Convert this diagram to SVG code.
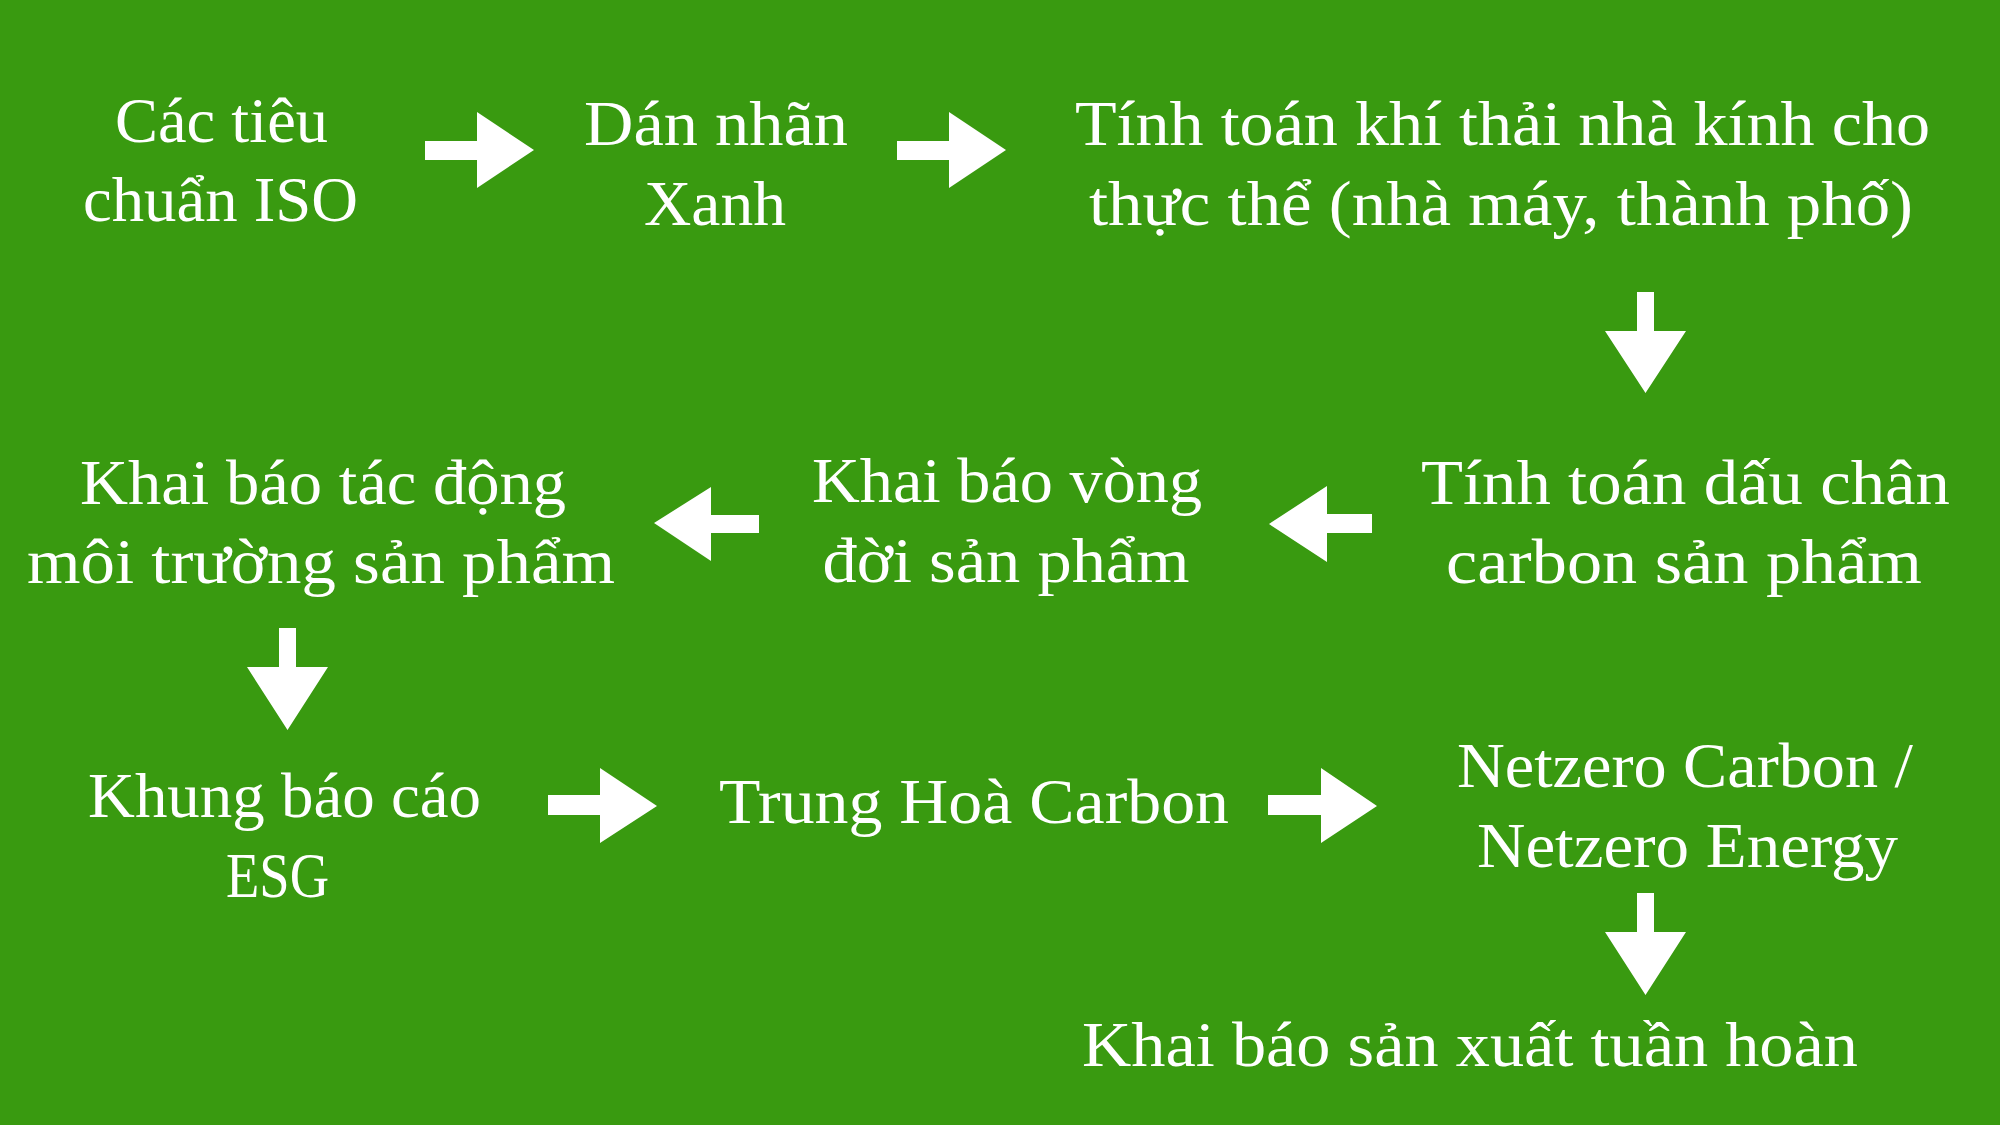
<svg xmlns="http://www.w3.org/2000/svg" width="2000" height="1125" viewBox="0 0 2000 1125">
  <style>
    .bg { fill: #399a10; }
    .lbl { font-family: "Liberation Serif", "Times New Roman", "DejaVu Serif", serif; font-size: 64px; fill: #ffffff; text-anchor: middle; }
    .arr { fill: #ffffff; stroke: none; }
  </style>
  <rect class="bg" x="0" y="0" width="2000" height="1125"/>

  <g id="connectors">
    <polygon class="arr" points="425,141 477,141 477,112 534,150 477,188 477,160 425,160"/>
    <polygon class="arr" points="897,141 949,141 949,112 1006,150 949,188 949,160 897,160"/>
    <polygon class="arr" points="1637,292 1654,292 1654,331 1686,331 1645.5,393 1605,331 1637,331"/>
    <polygon class="arr" points="1372,514 1327,514 1327,486 1269,524 1327,562 1327,533 1372,533"/>
    <polygon class="arr" points="759,515 711,515 711,487 654,523 711,561 711,533 759,533"/>
    <polygon class="arr" points="279,628 296,628 296,667 328,667 287.5,730 247,667 279,667"/>
    <polygon class="arr" points="548,795 600,795 600,768 657,806 600,843 600,815 548,815"/>
    <polygon class="arr" points="1268,795 1321,795 1321,768 1377,806 1321,843 1321,815 1268,815"/>
    <polygon class="arr" points="1637,893 1654,893 1654,932 1686,932 1645.5,995 1605,932 1637,932"/>
  </g>

  <g id="node-iso">
    <text class="lbl" font-family="Liberation Serif, serif" x="221.5" y="142" textLength="213" lengthAdjust="spacingAndGlyphs">Các tiêu</text>
    <text class="lbl" font-family="Liberation Serif, serif" x="220.5" y="221" textLength="275" lengthAdjust="spacingAndGlyphs">chuẩn ISO</text>
  </g>
  <g id="node-nhan-xanh">
    <text class="lbl" font-family="Liberation Serif, serif" x="716" y="145" textLength="264" lengthAdjust="spacingAndGlyphs">Dán nhãn</text>
    <text class="lbl" font-family="Liberation Serif, serif" x="715" y="225" textLength="142" lengthAdjust="spacingAndGlyphs">Xanh</text>
  </g>
  <g id="node-khi-thai">
    <text class="lbl" font-family="Liberation Serif, serif" x="1502.5" y="145" textLength="855" lengthAdjust="spacingAndGlyphs">Tính toán khí thải nhà kính cho</text>
    <text class="lbl" font-family="Liberation Serif, serif" x="1501" y="225" textLength="824" lengthAdjust="spacingAndGlyphs">thực thể (nhà máy, thành phố)</text>
  </g>
  <g id="node-dau-chan">
    <text class="lbl" font-family="Liberation Serif, serif" x="1685.5" y="504" textLength="529" lengthAdjust="spacingAndGlyphs">Tính toán dấu chân</text>
    <text class="lbl" font-family="Liberation Serif, serif" x="1684" y="583" textLength="476" lengthAdjust="spacingAndGlyphs">carbon sản phẩm</text>
  </g>
  <g id="node-vong-doi">
    <text class="lbl" font-family="Liberation Serif, serif" x="1007" y="502" textLength="390" lengthAdjust="spacingAndGlyphs">Khai báo vòng</text>
    <text class="lbl" font-family="Liberation Serif, serif" x="1006" y="582" textLength="367" lengthAdjust="spacingAndGlyphs">đời sản phẩm</text>
  </g>
  <g id="node-tac-dong">
    <text class="lbl" font-family="Liberation Serif, serif" x="323" y="504" textLength="486" lengthAdjust="spacingAndGlyphs">Khai báo tác động</text>
    <text class="lbl" font-family="Liberation Serif, serif" x="321" y="583" textLength="588" lengthAdjust="spacingAndGlyphs">môi trường sản phẩm</text>
  </g>
  <g id="node-esg">
    <text class="lbl" font-family="Liberation Serif, serif" x="284.5" y="817" textLength="393" lengthAdjust="spacingAndGlyphs">Khung báo cáo</text>
    <text class="lbl" font-family="Liberation Serif, serif" x="277.5" y="897" textLength="103" lengthAdjust="spacingAndGlyphs">ESG</text>
  </g>
  <g id="node-trung-hoa">
    <text class="lbl" font-family="Liberation Serif, serif" x="974" y="823" textLength="510" lengthAdjust="spacingAndGlyphs">Trung Hoà Carbon</text>
  </g>
  <g id="node-netzero">
    <text class="lbl" font-family="Liberation Serif, serif" x="1685" y="787" textLength="456" lengthAdjust="spacingAndGlyphs">Netzero Carbon /</text>
    <text class="lbl" font-family="Liberation Serif, serif" x="1687.5" y="867" textLength="421" lengthAdjust="spacingAndGlyphs">Netzero Energy</text>
  </g>
  <g id="node-tuan-hoan">
    <text class="lbl" font-family="Liberation Serif, serif" x="1470" y="1066" textLength="776" lengthAdjust="spacingAndGlyphs">Khai báo sản xuất tuần hoàn</text>
  </g>
</svg>
